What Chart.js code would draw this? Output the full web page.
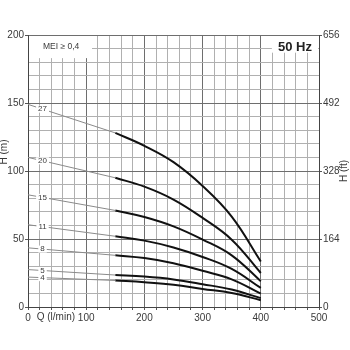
<!DOCTYPE html>
<html>
<head>
<meta charset="utf-8">
<script src="https://cdn.jsdelivr.net/npm/chart.js@4/dist/chart.umd.min.js"></script>
<style>
html,body{margin:0;padding:0;background:#fff;}
canvas{display:block;}
</style>
</head>
<body>
<canvas id="c" width="350" height="350"></canvas>
<script>
// ---- data ----
const stageLabels = ['27', '20', '15', '11', '8', '5', '4'];
const flowThin = [0, 150];
const flowCurve = [150, 200, 250, 300, 350, 400];
const head27Thin = [149, 128];
const head27 = [128, 118.5, 106.5, 89, 66.5, 33.5];
const head20Thin = [110, 95];
const head20 = [95, 88.5, 79, 65.5, 49.5, 25];
const head15Thin = [82.5, 71];
const head15 = [71, 66.2, 59.3, 49.6, 38, 19];
const head11Thin = [60.5, 52];
const head11 = [52, 48.8, 43.8, 36.8, 28, 14];
const head8Thin = [43.5, 38];
const head8 = [38, 36, 32.2, 26.6, 20.3, 9.8];
const head5Thin = [27.5, 23.5];
const head5 = [23.5, 22.4, 20.3, 16.8, 12.8, 6.5];
const head4Thin = [22, 19.5];
const head4 = [19.5, 18.2, 16.4, 13.3, 10.3, 5];
const xTickLabels = [0, 100, 200, 300, 400, 500];
const yTickLabels = [0, 50, 100, 150, 200];
const ftTickLabels = [0, 164, 328, 492, 656];
const labelFlow = 25;

const thinSets = [head27Thin, head20Thin, head15Thin, head11Thin, head8Thin, head5Thin, head4Thin];
const curveSets = [head27, head20, head15, head11, head8, head5, head4];

const FONT = "'Liberation Sans Narrow', 'Liberation Sans', sans-serif";
const TXT = '#3a3a3a';

const datasets = [];
thinSets.forEach((h, i) => {
  datasets.push({
    label: stageLabels[i] + ' thin',
    data: flowThin.map((q, k) => ({x: q, y: h[k]})),
    borderColor: '#8a8a8a', borderWidth: 1, pointRadius: 0, tension: 0, yAxisID: 'y'
  });
});
curveSets.forEach((h, i) => {
  datasets.push({
    label: stageLabels[i],
    data: flowCurve.map((q, k) => ({x: q, y: h[k]})),
    borderColor: '#111', borderWidth: 2, pointRadius: 0,
    tension: 0.4, yAxisID: 'y'
  });
});

const overlay = {
  id: 'overlay',
  beforeDatasetsDraw(chart) {
    const {ctx, chartArea: a, scales} = chart;
    const x = scales.x, y = scales.y;
    ctx.save();
    ctx.fillStyle = '#fff';
    // MEI box
    ctx.fillRect(a.left + 1, a.top + 1, x.getPixelForValue(110) - a.left - 1, y.getPixelForValue(183) - a.top - 1);
    // 50 Hz box
    const hx = x.getPixelForValue(419);
    ctx.fillRect(hx, a.top + 1, a.right - hx - 1, y.getPixelForValue(187) - a.top - 1);
    ctx.fillStyle = TXT;
    ctx.textBaseline = 'middle';
    ctx.textAlign = 'left';
    ctx.font = "8.5px " + FONT;
    ctx.fillText('MEI \u2265 0,4', a.left + 15, y.getPixelForValue(191.5));
    ctx.font = "bold 13px 'Liberation Sans', sans-serif";
    ctx.fillStyle = '#222';
    ctx.textAlign = 'right';
    ctx.fillText('50 Hz', a.right - 7, y.getPixelForValue(191));
    ctx.restore();
  },
  afterDatasetsDraw(chart) {
    const {ctx, chartArea: a, scales} = chart;
    const x = scales.x, y = scales.y;
    ctx.save();
    ctx.font = "8px " + FONT;
    ctx.textAlign = 'center';
    ctx.textBaseline = 'middle';
    thinSets.forEach((h, i) => {
      const v = h[0] + (h[1] - h[0]) * (labelFlow - flowThin[0]) / (flowThin[1] - flowThin[0]);
      const px = x.getPixelForValue(labelFlow), py = y.getPixelForValue(v);
      const w = ctx.measureText(stageLabels[i]).width + 4;
      ctx.fillStyle = '#fff';
      ctx.fillRect(px - w / 2, py - 3.5, w, 7);
      ctx.fillStyle = TXT;
      ctx.fillText(stageLabels[i], px, py);
    });
    // axis titles
    ctx.font = "10px " + FONT;
    ctx.fillStyle = TXT;
    ctx.textAlign = 'left';
    ctx.fillText('Q (l/min)', x.getPixelForValue(15), a.bottom + 10);
    ctx.save();
    ctx.translate(4, y.getPixelForValue(114));
    ctx.rotate(-Math.PI / 2);
    ctx.textAlign = 'center';
    ctx.fillText('H (m)', 0, 0);
    ctx.restore();
    ctx.save();
    ctx.translate(344, y.getPixelForValue(100));
    ctx.rotate(-Math.PI / 2);
    ctx.textAlign = 'center';
    ctx.fillText('H (ft)', 0, 0);
    ctx.restore();
    ctx.restore();
  }
};

new Chart(document.getElementById('c'), {
  type: 'line',
  data: {datasets},
  options: {
    responsive: false,
    animation: false,
    events: [],
    layout: {padding: {top: 35, bottom: 23, left: 0, right: 0}},
    plugins: {legend: {display: false}, tooltip: {enabled: false}},
    scales: {
      x: {
        type: 'linear', min: 0, max: 500,
        afterFit: s => { s.height = 20; },
        ticks: {
          stepSize: 20, autoSkip: false, maxRotation: 0, padding: 2,
          color: TXT, font: {family: FONT, size: 10},
          callback: v => xTickLabels.includes(v) ? String(v) : ''
        },
        grid: {
          color: c => (c.tick && c.tick.value % 100 === 0) ? '#6e6e6e' : '#b0b0b0',
          lineWidth: 1, tickLength: 3, tickColor: '#555'
        },
        border: {color: '#444', width: 1}
      },
      y: {
        type: 'linear', position: 'left', min: 0, max: 200,
        afterFit: s => { s.width = 28; },
        ticks: {
          stepSize: 10, autoSkip: false, padding: 1,
          color: TXT, font: {family: FONT, size: 10},
          callback: v => yTickLabels.includes(v) ? String(v) : ''
        },
        grid: {
          color: c => (c.tick && c.tick.value % 50 === 0) ? '#6e6e6e' : '#b0b0b0',
          lineWidth: 1, tickLength: 3,
          tickColor: c => (c.tick && c.tick.value % 50 === 0) ? '#555' : 'rgba(0,0,0,0)'
        },
        border: {color: '#444', width: 1}
      },
      y2: {
        type: 'linear', position: 'right', min: 0, max: 656,
        afterFit: s => { s.width = 31; },
        afterBuildTicks: s => { s.ticks = ftTickLabels.map(v => ({value: v})); },
        ticks: {padding: 1, color: TXT, font: {family: FONT, size: 10}},
        grid: {drawOnChartArea: false, tickLength: 3, tickColor: '#555'},
        border: {color: '#444', width: 1}
      }
    }
  },
  plugins: [overlay]
});
</script>
</body>
</html>
